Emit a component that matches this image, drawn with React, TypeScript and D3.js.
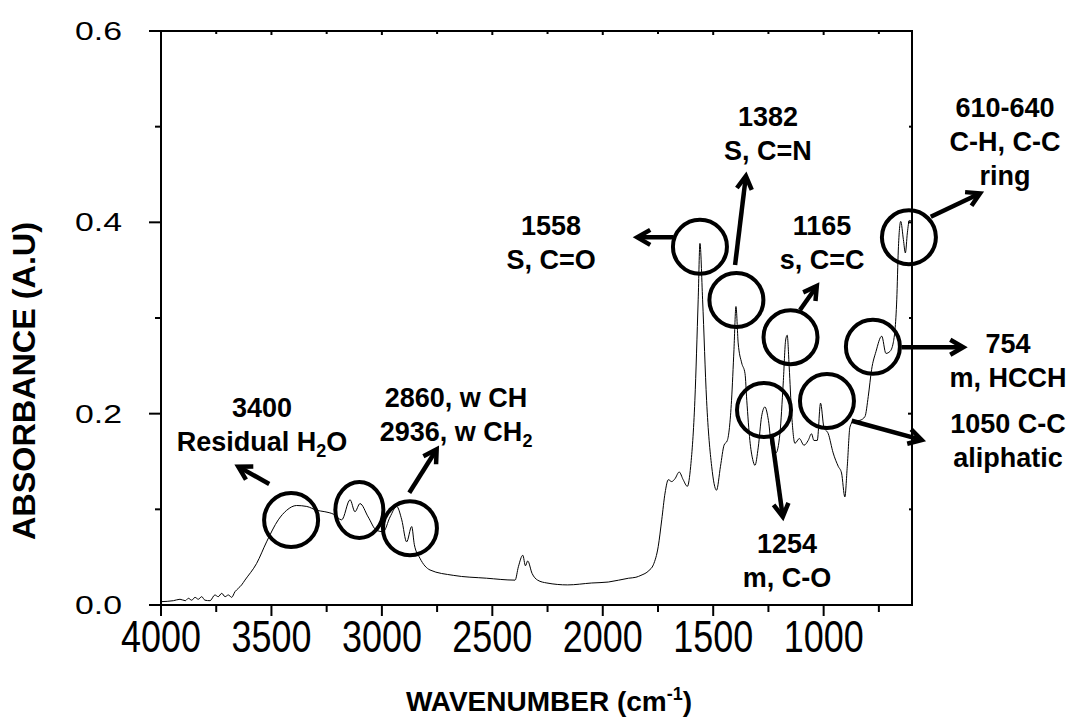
import React, { useEffect, useRef } from 'react';
import * as d3 from 'd3';

// FTIR spectrum (cm-1, A.U)
const wavenumber = [
  4000, 3944, 3914, 3890, 3876, 3861, 3846, 3831, 3816, 3801, 3778, 3756, 3741, 3725, 3710, 3695,
  3680, 3665, 3650, 3635, 3620, 3567, 3522, 3469, 3431, 3386, 3340, 3295, 3258, 3220, 3182, 3144,
  3122, 3099, 3062, 3024, 2994, 2963, 2933, 2910, 2888, 2865, 2853, 2828, 2782, 2677, 2526, 2397,
  2382, 2362, 2350, 2340, 2320, 2295, 2253, 2159, 2050, 1975, 1883, 1850, 1827, 1791, 1771, 1749,
  1733, 1718, 1703, 1688, 1673, 1654, 1636, 1617, 1602, 1583, 1568, 1560, 1548, 1530, 1507, 1485,
  1467, 1451, 1436, 1417, 1406, 1397, 1387, 1371, 1356, 1348, 1334, 1321, 1311, 1296, 1281, 1266,
  1250, 1235, 1216, 1198, 1183, 1172, 1165, 1156, 1145, 1130, 1110, 1089, 1070, 1055, 1044, 1029,
  1014, 999, 979, 957, 934, 919, 904, 893, 881, 866, 836, 813, 798, 783, 763, 737,
  718, 700, 685, 669, 662, 651, 639, 630, 621, 612, 601,
];
const absorbance = [
  0.0035, 0.0045, 0.006, 0.0045, 0.007, 0.005, 0.008, 0.006, 0.0087, 0.005, 0.0045, 0.0105, 0.0087, 0.0122, 0.0087, 0.0105,
  0.008, 0.0139, 0.0174, 0.021, 0.026, 0.0435, 0.066, 0.089, 0.099, 0.104, 0.103, 0.099, 0.0975, 0.095, 0.089, 0.11,
  0.0975, 0.106, 0.092, 0.078, 0.0766, 0.092, 0.103, 0.089, 0.066, 0.082, 0.063, 0.049, 0.0366, 0.031, 0.028, 0.026,
  0.04, 0.052, 0.041, 0.046, 0.033, 0.026, 0.023, 0.021, 0.023, 0.024, 0.028, 0.029, 0.031, 0.036, 0.042, 0.061,
  0.089, 0.117, 0.131, 0.129, 0.132, 0.139, 0.131, 0.124, 0.145, 0.214, 0.319, 0.378, 0.319, 0.214, 0.145, 0.12,
  0.145, 0.167, 0.172, 0.214, 0.267, 0.312, 0.274, 0.253, 0.242, 0.214, 0.172, 0.152, 0.146, 0.165, 0.197, 0.207,
  0.193, 0.165, 0.159, 0.179, 0.232, 0.277, 0.282, 0.249, 0.2, 0.169, 0.174, 0.167, 0.172, 0.179, 0.172, 0.172,
  0.211, 0.186, 0.179, 0.159, 0.145, 0.138, 0.113, 0.145, 0.186, 0.192, 0.193, 0.197, 0.218, 0.246, 0.265, 0.281,
  0.263, 0.265, 0.274, 0.319, 0.371, 0.401, 0.382, 0.368, 0.389, 0.402, 0.401,
];

const xTickLabels = [4000, 3500, 3000, 2500, 2000, 1500, 1000];
const xMinorTicks = [3750, 3250, 2750, 2250, 1750, 1250, 750];
const yTickLabels = [0, 0.2, 0.4, 0.6];
const yMinorTicks = [0.1, 0.3, 0.5];

// band markers: circle centre in data units
const markerWn = [3411, 3102, 2873, 1560, 1395, 1150, 1270, 985, 777, 614];
const markerAbs = [0.0888, 0.0993, 0.0802, 0.3745, 0.3188, 0.28, 0.2038, 0.2132, 0.27, 0.3843];
const markerNarrow = [false, true, false, false, false, false, false, false, false, false];

// arrows: [wn, abs] start and tip
const arrowFrom = [[3510, 0.1265], [2876, 0.1174], [1681, 0.3843], [1401, 0.3554], [1107, 0.3084], [515, 0.4059], [647, 0.2694], [873, 0.1926], [1235, 0.1759]];
const arrowTo = [[3650, 0.1446], [2752, 0.1628], [1844, 0.3843], [1352, 0.4484], [1031, 0.3334], [292, 0.4303], [368, 0.2694], [556, 0.1725], [1185, 0.0923]];

// label blocks: anchor in data units, lines of text (|x| = subscript)
const labelWn = [3543, 2664, 2234, 1252, 1007, 179, 165, 165, 1166];
const labelAbs = [0.1965, 0.207, 0.3868, 0.5007, 0.3868, 0.5101, 0.2634, 0.1798, 0.0544];
const labelLines = [
  ['3400', 'Residual H|2|O'],
  ['2860, w CH', '2936, w CH|2|'],
  ['1558', 'S, C=O'],
  ['1382', 'S, C=N'],
  ['1165', 's, C=C'],
  ['610-640', 'C-H, C-C', 'ring'],
  ['754', 'm, HCCH'],
  ['1050 C-C', 'aliphatic'],
  ['1254', 'm, C-O'],
];

const W = 1072;
const H = 720;
const left = 161, right = 912, top = 31, bottom = 605;
const FONT = '"Liberation Sans", Arial, Helvetica, sans-serif';

const App = () => {
  const svgRef = useRef(null);

  useEffect(() => {
    const svg = d3.select(svgRef.current);
    svg.selectAll('*').remove();

    const x = d3.scaleLinear().domain([4000, 600]).range([left, right]);
    const y = d3.scaleLinear().domain([0, 0.6]).range([bottom, top]);

    const g = svg.append('g');

    // spectrum
    const pts = wavenumber.map((w, i) => [w, absorbance[i]]);
    const line = d3.line().x(d => x(d[0])).y(d => y(d[1])).curve(d3.curveMonotoneX);
    g.append('path')
      .attr('d', line(pts))
      .attr('fill', 'none')
      .attr('stroke', '#000')
      .attr('stroke-width', 1);

    // frame
    const frame = g.append('g').attr('stroke', '#000').attr('stroke-width', 2);
    frame.append('line').attr('x1', left - 12).attr('x2', right + 1).attr('y1', bottom).attr('y2', bottom);
    frame.append('line').attr('x1', left - 12).attr('x2', right + 1).attr('y1', top).attr('y2', top);
    frame.append('line').attr('x1', left).attr('x2', left).attr('y1', top).attr('y2', bottom);
    frame.append('line').attr('x1', right).attr('x2', right).attr('y1', top).attr('y2', bottom);

    // bottom + top ticks
    xTickLabels.forEach(v => {
      frame.append('line').attr('x1', x(v)).attr('x2', x(v)).attr('y1', bottom).attr('y2', bottom + 11);
      frame.append('line').attr('x1', x(v)).attr('x2', x(v)).attr('y1', top).attr('y2', top + 4);
    });
    xMinorTicks.forEach(v => {
      frame.append('line').attr('x1', x(v)).attr('x2', x(v)).attr('y1', bottom).attr('y2', bottom + 7);
      frame.append('line').attr('x1', x(v)).attr('x2', x(v)).attr('y1', top).attr('y2', top + 3);
    });
    // left + right ticks
    yTickLabels.forEach(v => {
      frame.append('line').attr('x1', left - 12).attr('x2', left).attr('y1', y(v)).attr('y2', y(v));
      frame.append('line').attr('x1', right - 4).attr('x2', right).attr('y1', y(v)).attr('y2', y(v));
    });
    yMinorTicks.forEach(v => {
      frame.append('line').attr('x1', left - 6).attr('x2', left).attr('y1', y(v)).attr('y2', y(v));
      frame.append('line').attr('x1', right - 3).attr('x2', right).attr('y1', y(v)).attr('y2', y(v));
    });

    // tick labels
    xTickLabels.forEach(v => {
      g.append('text')
        .attr('x', x(v))
        .attr('y', bottom + 47)
        .attr('text-anchor', 'middle')
        .attr('font-family', FONT)
        .attr('font-size', 45)
        .attr('textLength', 80)
        .attr('lengthAdjust', 'spacingAndGlyphs')
        .text(String(v));
    });
    yTickLabels.forEach(v => {
      g.append('text')
        .attr('x', 122)
        .attr('y', y(v) + 9)
        .attr('text-anchor', 'end')
        .attr('font-family', FONT)
        .attr('font-size', 26)
        .attr('textLength', 47)
        .attr('lengthAdjust', 'spacingAndGlyphs')
        .text(v.toFixed(1));
    });

    // axis titles
    const xt = g.append('text')
      .attr('x', 549)
      .attr('y', 711)
      .attr('text-anchor', 'middle')
      .attr('font-family', FONT)
      .attr('font-size', 28)
      .attr('font-weight', 'bold');
    xt.append('tspan').text('WAVENUMBER (cm');
    xt.append('tspan').attr('font-size', 18).attr('dy', -11).text('-1');
    xt.append('tspan').attr('dy', 11).text(')');

    g.append('text')
      .attr('transform', 'translate(35,381) rotate(-90)')
      .attr('text-anchor', 'middle')
      .attr('font-family', FONT)
      .attr('font-size', 31)
      .attr('font-weight', 'bold')
      .attr('textLength', 318)
      .attr('lengthAdjust', 'spacingAndGlyphs')
      .text('ABSORBANCE (A.U)');

    // circles
    markerWn.forEach((w, i) => {
      g.append('ellipse')
        .attr('cx', x(w))
        .attr('cy', y(markerAbs[i]))
        .attr('rx', markerNarrow[i] ? 24 : 27)
        .attr('ry', markerNarrow[i] ? 28 : 27)
        .attr('fill', 'none')
        .attr('stroke', '#000')
        .attr('stroke-width', 4);
    });

    // arrows
    arrowFrom.forEach((f, i) => {
      const t = arrowTo[i];
      const x1 = x(f[0]), y1 = y(f[1]), x2 = x(t[0]), y2 = y(t[1]);
      const a = Math.atan2(y2 - y1, x2 - x1);
      const len = 15, spread = Math.PI / 6;
      const ah = g.append('g').attr('stroke', '#000').attr('stroke-width', 4.5).attr('fill', 'none');
      ah.append('line').attr('x1', x1).attr('y1', y1).attr('x2', x2 - Math.cos(a) * 2).attr('y2', y2 - Math.sin(a) * 2);
      ah.append('path')
        .attr('stroke-linejoin', 'miter')
        .attr('d', `M${x2 - len * Math.cos(a - spread)},${y2 - len * Math.sin(a - spread)}L${x2},${y2}L${x2 - len * Math.cos(a + spread)},${y2 - len * Math.sin(a + spread)}`);
    });

    // labels
    labelLines.forEach((lines, i) => {
      const cx = x(labelWn[i]);
      const cy = y(labelAbs[i]);
      lines.forEach((ln, j) => {
        const t = g.append('text')
          .attr('x', cx)
          .attr('y', cy + j * 34)
          .attr('text-anchor', 'middle')
          .attr('font-family', FONT)
          .attr('font-size', 27)
          .attr('font-weight', 'bold');
        const parts = ln.split('|');
        parts.forEach((p, k) => {
          if (!p) return;
          if (k % 2 === 1) {
            t.append('tspan').attr('font-size', 18).attr('dy', 6).text(p);
          } else {
            const s = t.append('tspan').text(p);
            if (k > 0) s.attr('dy', -6);
          }
        });
      });
    });
  }, []);

  return (
    <div style={{ position: 'absolute', left: 0, top: 0, width: W, height: H, background: '#fff' }}>
      <svg ref={svgRef} width={W} height={H} style={{ display: 'block' }} />
    </div>
  );
};

export default App;
